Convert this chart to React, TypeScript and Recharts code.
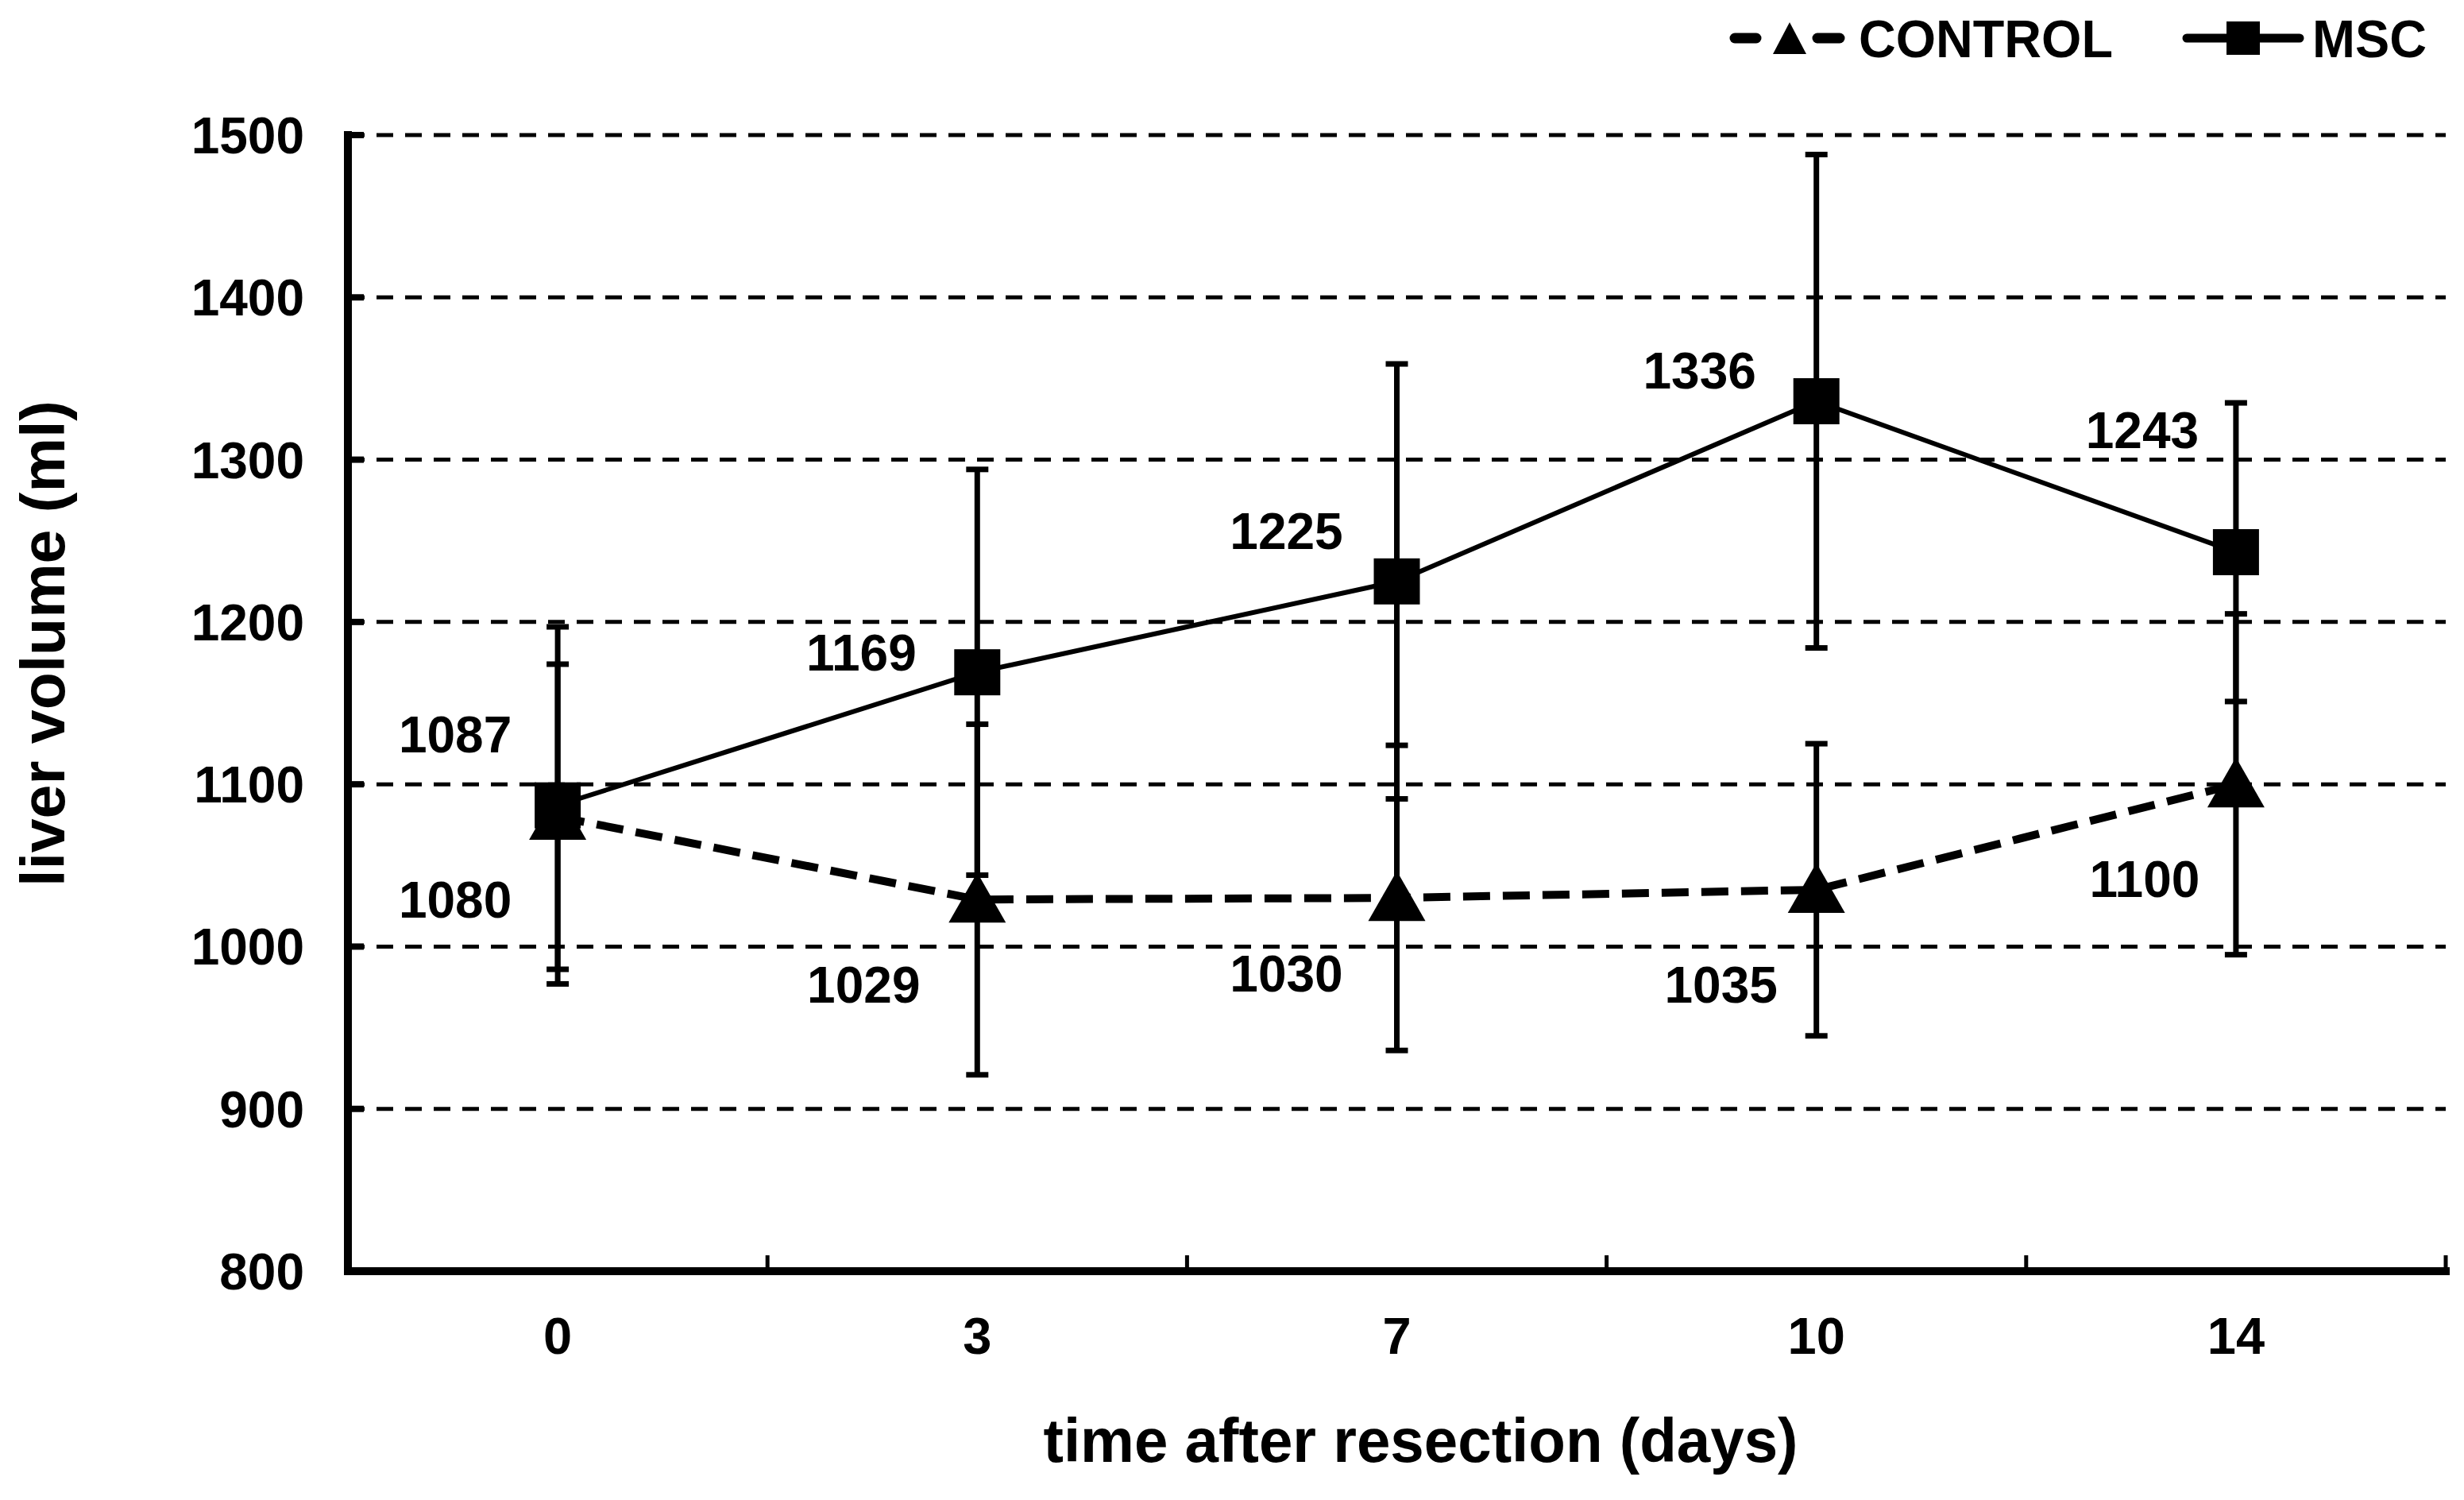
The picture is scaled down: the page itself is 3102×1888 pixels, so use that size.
import React from 'react';
import { LineChart, Line, XAxis, YAxis, CartesianGrid, ErrorBar, LabelList, Label } from 'recharts';

// days after resection
const days = ['0', '3', '7', '10', '14'];

// liver volume (ml), mean and error
const mscVolume = [1087, 1169, 1225, 1336, 1243];
const mscError = [110, 125, 134, 152, 92];
const controlVolume = [1080, 1029, 1030, 1035, 1100];
const controlError = [94, 108, 94, 90, 105];

const yTicks = [800, 900, 1000, 1100, 1200, 1300, 1400, 1500];

// value label placement relative to each point (layout only)
const mscLabelOffset = [[-129, -90], [-146, -25], [-139, -64], [-147, -39], [-118, -154]];
const controlLabelOffset = [[-129, 104], [-143, 107], [-139, 95], [-120, 119], [-115, 119]];

const data = days.map((day, i) => ({
  day,
  msc: mscVolume[i],
  mscErr: mscError[i],
  control: controlVolume[i],
  controlErr: controlError[i],
}));

const W = 3102;
const H = 1888;
const MARGIN = { top: 170, right: 23, bottom: 0, left: 0 };
const Y_AXIS_W = 438;
const X_AXIS_H = 288;
const BAND = (W - MARGIN.left - MARGIN.right - Y_AXIS_W) / days.length;
const FONT = '"Liberation Sans", Arial, Helvetica, sans-serif';

const SquareDot = (p: any) => {
  const { cx, cy, index } = p;
  if (cx == null || cy == null) return <g key={index} />;
  return <rect key={index} x={cx - 29} y={cy - 29} width={58} height={58} fill="#000" />;
};

const TriangleDot = (p: any) => {
  const { cx, cy, index } = p;
  if (cx == null || cy == null) return <g key={index} />;
  return (
    <polygon
      key={index}
      points={`${cx - 36},${cy + 29} ${cx},${cy - 34} ${cx + 36},${cy + 29}`}
      fill="#000"
    />
  );
};

const valueLabel = (offsets: number[][]) => (p: any) => {
  const { x, y, value, index } = p;
  const [dx, dy] = offsets[index] || [0, 0];
  return (
    <text
      x={x + dx}
      y={y + dy + 23}
      textAnchor="middle"
      fontFamily={FONT}
      fontWeight="bold"
      fontSize={64}
      fill="#000"
    >
      {value}
    </text>
  );
};

const XTick = (p: any) => {
  const { x, y, payload, index } = p;
  const half = BAND / 2;
  return (
    <g>
      <line x1={x - half} x2={x - half} y1={y} y2={y - 20} stroke="#000" strokeWidth={5} />
      {index === days.length - 1 && (
        <line x1={x + half} x2={x + half} y1={y} y2={y - 20} stroke="#000" strokeWidth={5} />
      )}
      <text x={x} y={y + 104} textAnchor="middle" fontFamily={FONT} fontWeight="bold" fontSize={65} fill="#000">
        {payload.value}
      </text>
    </g>
  );
};

const YTick = (p: any) => {
  const { x, y, payload } = p;
  return (
    <g>
      <line x1={x} x2={x + 20} y1={y} y2={y} stroke="#000" strokeWidth={8} />
      <text x={x - 55} y={y + 23} textAnchor="end" fontFamily={FONT} fontWeight="bold" fontSize={64} fill="#000">
        {payload.value}
      </text>
    </g>
  );
};

const XTitle = (p: any) => {
  const vb = p.viewBox;
  return (
    <text
      x={vb.x + vb.width / 2 + 30}
      y={vb.y + 240}
      textAnchor="middle"
      fontFamily={FONT}
      fontWeight="bold"
      fontSize={78}
      textLength={950}
      lengthAdjust="spacingAndGlyphs"
      fill="#000"
    >
      time after resection (days)
    </text>
  );
};

const YTitle = (p: any) => {
  const vb = p.viewBox;
  const cx = vb.x + 81;
  const cy = vb.y + vb.height / 2 - 75;
  return (
    <text
      x={cx}
      y={cy}
      transform={`rotate(-90 ${cx} ${cy})`}
      textAnchor="middle"
      fontFamily={FONT}
      fontWeight="bold"
      fontSize={78}
      textLength={612}
      lengthAdjust="spacingAndGlyphs"
      fill="#000"
    >
      liver volume (ml)
    </text>
  );
};

const LegendOverlay = () => (
  <svg width={W} height={110} style={{ position: 'absolute', left: 0, top: 0 }}>
    <g fontFamily={FONT} fontWeight="bold" fontSize={66} fill="#000">
      <line x1={2184} x2={2211} y1={48} y2={48} stroke="#000" strokeWidth={13} strokeLinecap="round" />
      <polygon points="2232,68 2253,28 2274,68" fill="#000" />
      <line x1={2288} x2={2316} y1={48} y2={48} stroke="#000" strokeWidth={13} strokeLinecap="round" />
      <text x={2340} y={72} textLength={320} lengthAdjust="spacingAndGlyphs">CONTROL</text>
      <line x1={2753} x2={2895} y1={48} y2={48} stroke="#000" strokeWidth={11} strokeLinecap="round" />
      <rect x={2803} y={27} width={42} height={42} fill="#000" />
      <text x={2911} y={72} textLength={144} lengthAdjust="spacingAndGlyphs">MSC</text>
    </g>
  </svg>
);

const App: React.FC = () => {
  return (
    <div style={{ position: 'absolute', left: 0, top: 0, width: W, height: H, background: '#fff' }}>
      <LineChart width={W} height={H} data={data} margin={MARGIN}>
        <CartesianGrid vertical={false} stroke="#000" strokeWidth={5} strokeDasharray="21 15" />
        <XAxis
          dataKey="day"
          height={X_AXIS_H}
          padding={{ left: BAND / 2, right: BAND / 2 }}
          interval={0}
          tickLine={false}
          tickSize={0}
          tickMargin={0}
          axisLine={{ stroke: '#000', strokeWidth: 10, strokeLinecap: 'square' }}
          tick={XTick}
        >
          <Label content={XTitle} />
        </XAxis>
        <YAxis
          type="number"
          width={Y_AXIS_W}
          domain={[800, 1500]}
          ticks={yTicks}
          interval={0}
          allowDataOverflow
          tickLine={false}
          tickSize={0}
          tickMargin={0}
          axisLine={{ stroke: '#000', strokeWidth: 10, strokeLinecap: 'square' }}
          tick={YTick}
        >
          <Label content={YTitle} />
        </YAxis>
        <Line
          type="linear"
          dataKey="control"
          stroke="#000"
          strokeWidth={10}
          strokeDasharray="34 16"
          dot={TriangleDot}
          activeDot={false}
          isAnimationActive={false}
        >
          <ErrorBar dataKey="controlErr" direction="y" width={14} strokeWidth={7} stroke="#000" />
          <LabelList dataKey="control" content={valueLabel(controlLabelOffset)} />
        </Line>
        <Line
          type="linear"
          dataKey="msc"
          stroke="#000"
          strokeWidth={6}
          dot={SquareDot}
          activeDot={false}
          isAnimationActive={false}
        >
          <ErrorBar dataKey="mscErr" direction="y" width={14} strokeWidth={7} stroke="#000" />
          <LabelList dataKey="msc" content={valueLabel(mscLabelOffset)} />
        </Line>
      </LineChart>
      <LegendOverlay />
    </div>
  );
};

export default App;
